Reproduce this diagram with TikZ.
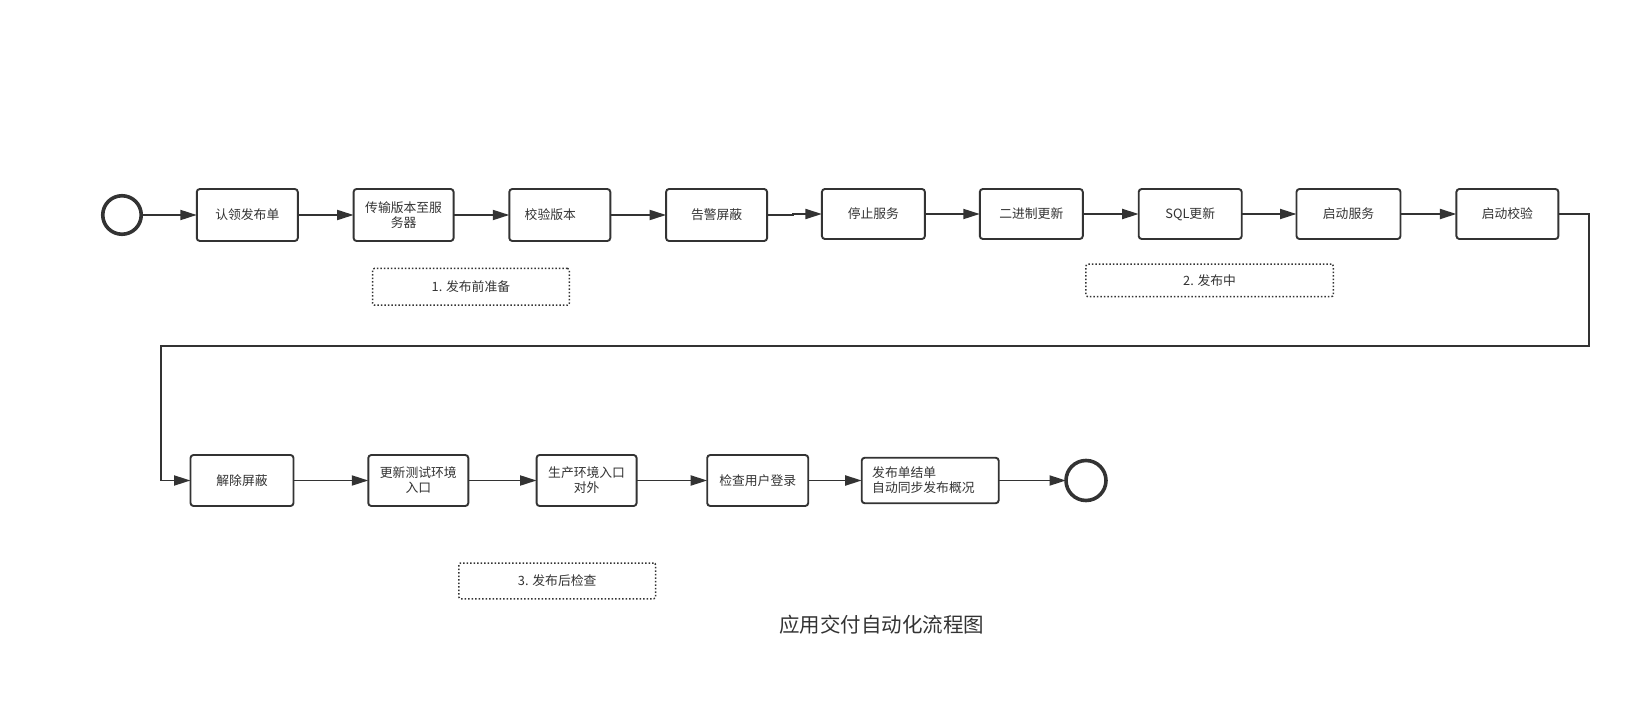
\documentclass[tikz,border=0pt]{standalone}
\usepackage{fontspec}
\setmainfont{Noto Sans CJK SC}
\usetikzlibrary{arrows.meta}
\definecolor{ink}{HTML}{333333}
\tikzset{
  stepbox/.style={draw=ink, line width=1.9pt, rounded corners=3pt, fill=white,
    inner sep=0pt, outer sep=0pt, minimum height=50pt, text=ink,
    font=\fontsize{12.8}{15}\selectfont, align=center},
  groupbox/.style={draw=ink, line width=1.5pt, dotted, rounded corners=2pt,
    inner sep=0pt, outer sep=0pt, text=ink, font=\fontsize{12.8}{15}\selectfont},
  event/.style={circle, draw=ink, line width=3.6pt, inner sep=0pt, outer sep=0pt},
  flow/.style={draw=ink, line width=1.9pt, -{Triangle[length=16.5pt,width=10pt]}},
}
\begin{document}
\begin{tikzpicture}[x=1pt,y=-1pt]
\useasboundingbox (0,0) rectangle (1650,706);
% row 1
\node[event, minimum size=38.5pt] (start) at (122,215) {};
\node[stepbox, minimum width=101pt, minimum height=52pt] (a1) at (247.3,215) {认领发布单};
\node[stepbox, minimum width=100pt, minimum height=52pt] (a2) at (403.6,215) {传输版本至服\\务器};
\node[stepbox, minimum width=101pt, minimum height=52pt] (a3) at (559.8,215) {校验版本\hspace*{19pt}};
\node[stepbox, minimum width=101pt, minimum height=52pt] (a4) at (716.6,215) {告警屏蔽};
\node[stepbox, minimum width=103pt] (a5) at (873.4,214) {停止服务};
\node[stepbox, minimum width=103pt] (a6) at (1031.3,214) {二进制更新};
\node[stepbox, minimum width=103pt] (a7) at (1190.2,214) {SQL更新};
\node[stepbox, minimum width=104pt] (a8) at (1348.5,214) {启动服务};
\node[stepbox, minimum width=102pt] (a9) at (1507.4,214) {启动校验};
% row 2
\node[stepbox, minimum width=103pt, minimum height=51pt] (b1) at (242,480.5) {解除屏蔽};
\node[stepbox, minimum width=100pt, minimum height=51pt] (b2) at (418.3,480.5) {更新测试环境\\入口};
\node[stepbox, minimum width=100pt, minimum height=51pt] (b3) at (586.6,480.5) {生产环境入口\\对外};
\node[stepbox, minimum width=101pt, minimum height=51pt] (b4) at (757.7,480.5) {检查用户登录};
\node[stepbox, minimum width=137pt, minimum height=45.5pt, text width=116pt, align=left] (b5) at (930.2,480.5) {发布单结单\\自动同步发布概况};
\node[event, minimum size=40pt] (stop) at (1086,480.5) {};
% group labels
\node[groupbox, minimum width=196.8pt, minimum height=36.8pt] (g1) at (470.9,286.8) {1. 发布前准备};
\node[groupbox, minimum width=247.3pt, minimum height=32.6pt] (g2) at (1209.6,280.4) {2. 发布中};
\node[groupbox, minimum width=196.8pt, minimum height=35.8pt] (g3) at (557.2,580.9) {3. 发布后检查};
% title
\node[text=ink, font=\fontsize{20.5}{24}\selectfont] (title) at (881.8,624.5) {应用交付自动化流程图};
% connectors
\draw[flow] (start) -- (a1);
\draw[flow] (a1) -- (a2);
\draw[flow] (a2) -- (a3);
\draw[flow] (a3) -- (a4);
\draw[flow] (a4.east) -- ++(26pt,0) |- (a5.west);
\draw[flow] (a5) -- (a6);
\draw[flow] (a6) -- (a7);
\draw[flow] (a7) -- (a8);
\draw[flow] (a8) -- (a9);
\coordinate (t1) at (1589,346.2);
\coordinate (t2) at (161,346.2);
\draw[flow] (a9.east) -| (t1) -- (t2) |- (b1.west);
\draw[flow] (b1) -- (b2);
\draw[flow] (b2) -- (b3);
\draw[flow] (b3) -- (b4);
\draw[flow] (b4) -- (b5);
\draw[flow] (b5) -- (stop);
\end{tikzpicture}
\end{document}
